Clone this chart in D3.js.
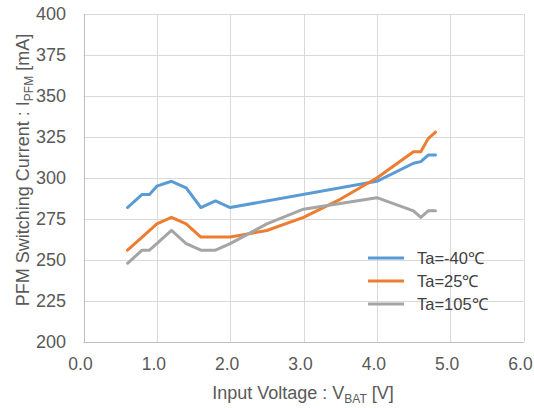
<!DOCTYPE html>
<html><head><meta charset="utf-8">
<script src="https://cdn.jsdelivr.net/npm/d3@7"></script>
<style>body{margin:0;background:#fff}svg{display:block}text{font-family:"Liberation Sans",Arial,sans-serif}</style>
</head><body>
<script>
const seriesNames = ["Ta=-40℃","Ta=25℃","Ta=105℃"];
const colors = ["#5B9BD5","#ED7D31","#A5A5A5"];
const vM40 = [0.6,0.8,0.9,1.0,1.2,1.4,1.6,1.8,2.0,4.0,4.5,4.6,4.7,4.8];
const iM40 = [282,290,290,295,298,294,282,286,282,298,309,310,314,314];
const v25 = [0.6,0.8,1.0,1.2,1.4,1.6,2.0,2.5,3.0,3.5,4.0,4.5,4.6,4.7,4.8];
const i25 = [256,264,272,276,272,264,264,268,276,287,300,316,316,324,328];
const v105 = [0.6,0.8,0.9,1.0,1.2,1.4,1.6,1.8,2.0,2.5,3.0,4.0,4.5,4.6,4.7,4.8];
const i105 = [248,256,256,260,268,260,256,256,260,272,281,288,280,276,280,280];
const xTicks = [0,1,2,3,4,5,6];
const yTicks = [200,225,250,275,300,325,350,375,400];

const W=534,H=408;
const svg=d3.select("body").append("svg").attr("width",W).attr("height",H);
const x=d3.scaleLinear().domain([0,6]).range([83.5,523.5]);
const y=d3.scaleLinear().domain([200,400]).range([342,14]);

const g=svg.append("g");
g.selectAll(".hg").data(yTicks).join("line")
 .attr("x1",x(0)).attr("x2",x(6)).attr("y1",d=>Math.round(y(d))+0.5).attr("y2",d=>Math.round(y(d))+0.5)
 .attr("stroke","#D9D9D9").attr("stroke-width",1);
g.selectAll(".vg").data(xTicks).join("line")
 .attr("y1",y(400)).attr("y2",y(200)).attr("x1",d=>Math.round(x(d))+0.5).attr("x2",d=>Math.round(x(d))+0.5)
 .attr("stroke","#D9D9D9").attr("stroke-width",1);
g.append("line").attr("x1",x(0)).attr("x2",x(6)).attr("y1",Math.round(y(200))+0.5).attr("y2",Math.round(y(200))+0.5).attr("stroke","#BFBFBF");
g.append("line").attr("x1",Math.round(x(0))+0.5).attr("x2",Math.round(x(0))+0.5).attr("y1",y(400)).attr("y2",y(200)).attr("stroke","#BFBFBF");

g.selectAll(".yl").data(yTicks).join("text")
 .attr("x",66).attr("y",d=>y(d)).attr("dy","0.35em").attr("text-anchor","end")
 .attr("font-size",18).attr("fill","#595959").text(d=>d);
g.selectAll(".xl").data(xTicks).join("text")
 .attr("x",d=>x(d)-3).attr("y",364).attr("dy","0.35em").attr("text-anchor","middle")
 .attr("font-size",17.5).attr("fill","#595959").text(d=>d.toFixed(1));

const xt=svg.append("text").attr("x",303).attr("y",399).attr("text-anchor","middle").attr("font-size",18).attr("fill","#595959");
xt.append("tspan").text("Input Voltage : V");
xt.append("tspan").attr("font-size",12).attr("dy",4).text("BAT");
xt.append("tspan").attr("dy",-4).text(" [V]");
const yt=svg.append("text").attr("transform","translate(29,170) rotate(-90)").attr("text-anchor","middle").attr("font-size",18).attr("fill","#595959");
yt.append("tspan").text("PFM Switching Current : I");
yt.append("tspan").attr("font-size",12).attr("dy",4).text("PFM");
yt.append("tspan").attr("dy",-4).text(" [mA]");

const data=[[vM40,iM40],[v25,i25],[v105,i105]];
const line=d3.line().x(d=>x(d[0])).y(d=>y(d[1]));
data.forEach((s,k)=>{
  const pts=s[0].map((v,i)=>[v,s[1][i]]);
  svg.append("path").datum(pts).attr("d",line).attr("fill","none")
   .attr("stroke",colors[k]).attr("stroke-width",3).attr("stroke-linejoin","round").attr("stroke-linecap","round");
});

const lg=svg.append("g");
seriesNames.forEach((n,k)=>{
  const yy=258+k*23;
  lg.append("line").attr("x1",368).attr("x2",404).attr("y1",yy).attr("y2",yy).attr("stroke",colors[k]).attr("stroke-width",3);
  lg.append("text").attr("x",417).attr("y",yy).attr("dy","0.35em").attr("font-size",16.5).attr("fill","#404040").text(n);
});
</script>
</body></html>
